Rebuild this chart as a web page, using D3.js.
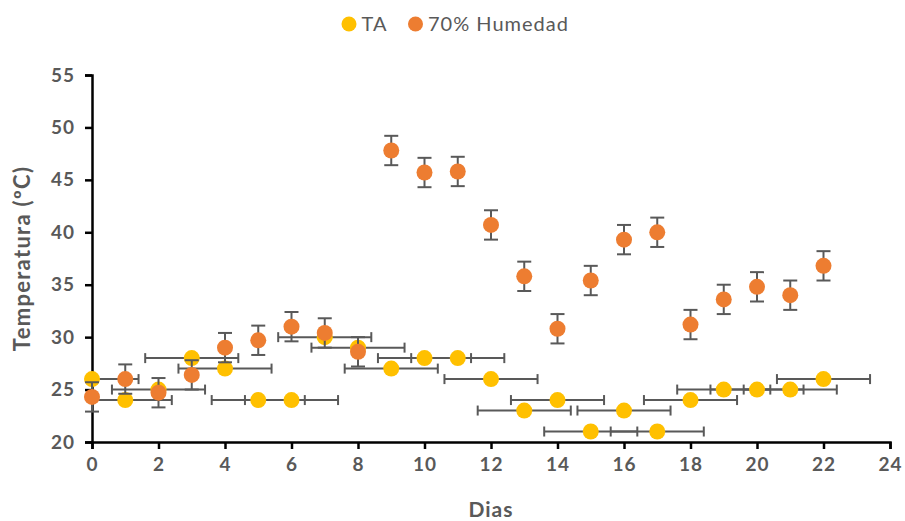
<!DOCTYPE html>
<html>
<head>
<meta charset="utf-8">
<script src="https://cdn.jsdelivr.net/npm/d3@7"></script>
<style>
  body { margin: 0; background: #fff; }
  text { font-family: Lato, "Open Sans", sans-serif; }
</style>
</head>
<body>
<div id="chart"></div>
<script>
const WIDTH = 905;
const HEIGHT = 521;

// days and values
const dias = [0,1,2,3,4,5,6,7,8,9,10,11,12,13,14,15,16,17,18,19,20,21,22];
const ta = [26,24,25,28,27,24,24,30,29,27,28,28,26,23,24,21,23,21,24,25,25,25,26];
const humedad = [24.3,26,24.7,26.4,29,29.7,31.0,30.4,28.6,47.8,45.7,45.8,40.7,35.8,30.8,35.4,39.3,40.0,31.2,33.6,34.8,34.0,36.8];
const taErrX = 1.4;      // horizontal error on TA
const humErrY = 1.4;     // vertical error on 70% Humedad
const xTicks = [0,2,4,6,8,10,12,14,16,18,20,22,24];
const yTicks = [20,25,30,35,40,45,50,55];
const seriesNames = ["TA", "70% Humedad"];
const colors = ["#FFC000", "#ED7D31"];

const marginLeft = 92, marginRight = 15, marginTop = 75, marginBottom = 79;

const x = d3.scaleLinear().domain([0, 24]).range([marginLeft, WIDTH - marginRight]);
const y = d3.scaleLinear().domain([20, 55]).range([HEIGHT - marginBottom, marginTop]);

const svg = d3.select("#chart").append("svg")
    .attr("width", WIDTH)
    .attr("height", HEIGHT);

svg.append("clipPath").attr("id", "plotClip")
  .append("rect")
    .attr("x", x(0)).attr("y", y(55) - 10)
    .attr("width", x(24) - x(0)).attr("height", y(20) - y(55) + 20);

// axes
const xAxis = svg.append("g")
    .attr("transform", `translate(0,${y(20)})`)
    .call(d3.axisBottom(x).tickValues(xTicks).tickSize(7).tickPadding(14));
const yAxis = svg.append("g")
    .attr("transform", `translate(${x(0)},0)`)
    .call(d3.axisLeft(y).tickValues(yTicks).tickSize(7).tickPadding(10));

[xAxis, yAxis].forEach(function(ax) {
  ax.select(".domain").attr("stroke", "#000").attr("stroke-width", 2.5);
  ax.selectAll(".tick line").attr("stroke", "#000").attr("stroke-width", 2.5);
  ax.selectAll(".tick text")
    .attr("fill", "#595959")
    .style("font-size", "19px")
    .style("font-weight", "bold")
    .style("letter-spacing", "1px");
});
xAxis.selectAll(".tick text").attr("dy", "0.4em");

// axis titles
svg.append("text")
    .attr("x", (x(0) + x(24)) / 2)
    .attr("y", 517)
    .attr("text-anchor", "middle")
    .attr("fill", "#595959")
    .style("font-size", "21px")
    .style("font-weight", "bold")
    .style("letter-spacing", "1px")
    .text("Dias");
svg.append("text")
    .attr("transform", `translate(30,${(y(20) + y(55)) / 2}) rotate(-90)`)
    .attr("text-anchor", "middle")
    .attr("fill", "#595959")
    .style("font-size", "22px")
    .style("font-weight", "bold")
    .style("letter-spacing", "1.3px")
    .text("Temperatura (ºC)");

const errColor = "#595959";
const cap = 5;

const plot = svg.append("g").attr("clip-path", "url(#plotClip)");

// TA: horizontal error bars then markers
const taPts = dias.map((d, i) => ({x: d, y: ta[i]}));
const taErr = plot.append("g").attr("stroke", errColor).attr("stroke-width", 2).attr("fill", "none");
taPts.forEach(function(p) {
  const x0 = x(p.x - taErrX), x1 = x(p.x + taErrX), yy = y(p.y);
  taErr.append("line").attr("x1", x0).attr("x2", x1).attr("y1", yy).attr("y2", yy);
  taErr.append("line").attr("x1", x0).attr("x2", x0).attr("y1", yy - cap).attr("y2", yy + cap);
  taErr.append("line").attr("x1", x1).attr("x2", x1).attr("y1", yy - cap).attr("y2", yy + cap);
});
svg.append("g").selectAll("circle").data(taPts).join("circle")
    .attr("cx", d => x(d.x))
    .attr("cy", d => y(d.y))
    .attr("r", 8)
    .attr("fill", colors[0]);

// 70% Humedad: vertical error bars then markers
const humPts = dias.map((d, i) => ({x: d, y: humedad[i]}));
const humErr = svg.append("g").attr("stroke", errColor).attr("stroke-width", 2).attr("fill", "none");
humPts.forEach(function(p) {
  const xx = x(p.x), y0 = y(p.y - humErrY), y1 = y(p.y + humErrY);
  humErr.append("line").attr("x1", xx).attr("x2", xx).attr("y1", y0).attr("y2", y1);
  humErr.append("line").attr("x1", xx - 7).attr("x2", xx + 7).attr("y1", y0).attr("y2", y0);
  humErr.append("line").attr("x1", xx - 7).attr("x2", xx + 7).attr("y1", y1).attr("y2", y1);
});
svg.append("g").selectAll("circle").data(humPts).join("circle")
    .attr("cx", d => x(d.x))
    .attr("cy", d => y(d.y))
    .attr("r", 8)
    .attr("fill", colors[1]);

// legend
const legendX = [349, 415.5];
const legend = svg.append("g");
seriesNames.forEach(function(name, i) {
  legend.append("circle").attr("cx", legendX[i]).attr("cy", 24).attr("r", 7.5).attr("fill", colors[i]);
  legend.append("text")
      .attr("x", legendX[i] + 12.5)
      .attr("y", 31)
      .attr("fill", "#595959")
      .style("font-size", "20px")
      .style("letter-spacing", "1px")
      .text(name);
});
</script>
</body>
</html>
